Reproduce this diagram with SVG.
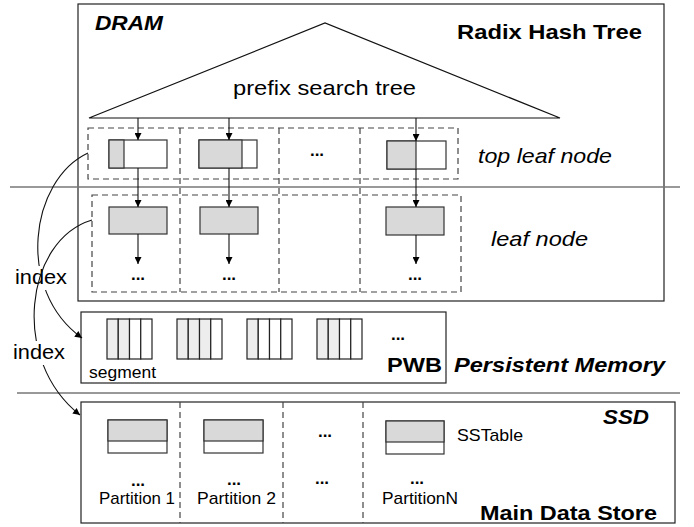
<svg xmlns="http://www.w3.org/2000/svg" width="694" height="527" viewBox="0 0 694 527">
<style>
  .box{fill:#fff;stroke:#222;stroke-width:1.2}
  .sep{stroke:#777;stroke-width:1.5;fill:none}
  .dash{fill:none;stroke:#444;stroke-width:1.2;stroke-dasharray:6,4}
  .cell{fill:#fff;stroke:#333;stroke-width:1.2}
  .gray{fill:#d9d9d9;stroke:#333;stroke-width:1.2}
  .seg{fill:#ededed;stroke:#222;stroke-width:1.2}
  .segw{fill:#fff;stroke:#222;stroke-width:1.2}
  .ln{stroke:#111;stroke-width:1.1;fill:none}
  .hd{font-family:"Liberation Sans",Arial,sans-serif;font-weight:bold;font-size:21px;fill:#000}
  .hdi{font-family:"Liberation Sans",Arial,sans-serif;font-weight:bold;font-style:italic;font-size:21px;fill:#000}
  .it{font-family:"Liberation Sans",Arial,sans-serif;font-style:italic;font-size:21px;fill:#000}
  .rg{font-family:"Liberation Sans",Arial,sans-serif;font-size:21px;fill:#000}
  .sm{font-family:"Liberation Sans",Arial,sans-serif;font-size:17px;fill:#000}
  .dots{font-family:"Liberation Sans",Arial,sans-serif;font-weight:bold;font-size:17px;fill:#000;text-anchor:middle}
</style>
<defs>
  <marker id="ah" viewBox="0 0 10 10" refX="10" refY="5" markerWidth="10" markerHeight="7" markerUnits="userSpaceOnUse" orient="auto">
    <path d="M0,0 L10,5 L0,10 z" fill="#000"/>
  </marker>
</defs>

<g id="dram">
  <rect class="box" x="78" y="4" width="586" height="297"/>
  <text class="hdi" x="95" y="30" textLength="68" lengthAdjust="spacingAndGlyphs">DRAM</text>
  <text class="hd" x="457" y="39" textLength="185" lengthAdjust="spacingAndGlyphs">Radix Hash Tree</text>
</g>

<g id="prefix-tree">
  <polygon points="89,118 325,23 560,118" fill="none" stroke="#111" stroke-width="1.2"/>
  <text class="rg" x="233" y="95" textLength="183" lengthAdjust="spacingAndGlyphs">prefix search tree</text>
</g>

<g id="top-leaf-node">
  <rect class="dash" x="88" y="128" width="370" height="51"/>
  <rect class="cell" x="109" y="140" width="58" height="28"/>
  <rect class="gray" x="109" y="140" width="15" height="28"/>
  <rect class="cell" x="199" y="140" width="58" height="28"/>
  <rect class="gray" x="199" y="140" width="43" height="28"/>
  <text class="dots" x="317" y="156">...</text>
  <rect class="cell" x="387" y="141" width="59" height="28"/>
  <rect class="gray" x="387" y="141" width="29" height="28"/>
  <text class="it" x="478" y="163" textLength="134" lengthAdjust="spacingAndGlyphs">top leaf node</text>
</g>

<g id="leaf-node">
  <rect class="dash" x="92" y="195" width="369" height="97"/>
  <rect class="gray" x="109" y="207" width="58" height="27"/>
  <rect class="gray" x="200" y="207" width="58" height="27"/>
  <rect class="gray" x="386" y="207" width="58" height="28"/>
  <text class="dots" x="138" y="280">...</text>
  <text class="dots" x="229" y="280">...</text>
  <text class="dots" x="415" y="280">...</text>
  <text class="it" x="491" y="246" textLength="97" lengthAdjust="spacingAndGlyphs">leaf node</text>
</g>

<g id="column-dividers">
  <line class="dash" x1="180" y1="128" x2="180" y2="292"/>
  <line class="dash" x1="279" y1="128" x2="279" y2="292"/>
  <line class="dash" x1="360" y1="128" x2="360" y2="292"/>
</g>

<g id="separators">
  <line class="sep" x1="10" y1="187" x2="680" y2="187"/>
  <line class="sep" x1="17" y1="393" x2="680" y2="393"/>
</g>

<g id="pwb">
  <rect class="box" x="81" y="312" width="365" height="71"/>
  <rect class="seg" x="107" y="319" width="11.25" height="40"/>
  <rect class="seg" x="118.25" y="319" width="11.25" height="40"/>
  <rect class="segw" x="129.5" y="319" width="11.25" height="40"/>
  <rect class="segw" x="140.75" y="319" width="11.25" height="40"/>
  <rect class="seg" x="177" y="319" width="11.25" height="40"/>
  <rect class="seg" x="188.25" y="319" width="11.25" height="40"/>
  <rect class="seg" x="199.5" y="319" width="11.25" height="40"/>
  <rect class="segw" x="210.75" y="319" width="11.25" height="40"/>
  <rect class="seg" x="247" y="319" width="11.25" height="40"/>
  <rect class="segw" x="258.25" y="319" width="11.25" height="40"/>
  <rect class="segw" x="269.5" y="319" width="11.25" height="40"/>
  <rect class="segw" x="280.75" y="319" width="11.25" height="40"/>
  <rect class="seg" x="317" y="319" width="11.25" height="40"/>
  <rect class="seg" x="328.25" y="319" width="11.25" height="40"/>
  <rect class="segw" x="339.5" y="319" width="11.25" height="40"/>
  <rect class="segw" x="350.75" y="319" width="11.25" height="40"/>
  <text class="dots" x="398" y="340">...</text>
  <text class="sm" x="89" y="378" font-size="16" textLength="67" lengthAdjust="spacingAndGlyphs">segment</text>
  <text class="hd" x="387" y="372" textLength="55" lengthAdjust="spacingAndGlyphs">PWB</text>
  <text class="hdi" x="454" y="372" textLength="211" lengthAdjust="spacingAndGlyphs">Persistent Memory</text>
</g>

<g id="ssd">
  <rect class="box" x="81" y="402" width="594" height="121"/>
  <line class="dash" x1="180" y1="402" x2="180" y2="523"/>
  <line class="dash" x1="283" y1="402" x2="283" y2="523"/>
  <line class="dash" x1="363" y1="402" x2="363" y2="523"/>
  <rect class="cell" x="108" y="420" width="59" height="33"/>
  <rect class="gray" x="108" y="420" width="59" height="21"/>
  <rect class="cell" x="204" y="420" width="59" height="33"/>
  <rect class="gray" x="204" y="420" width="59" height="21"/>
  <rect class="cell" x="386" y="421" width="58" height="33"/>
  <rect class="gray" x="386" y="421" width="58" height="21"/>
  <text class="dots" x="325" y="437">...</text>
  <text class="dots" x="138" y="486">...</text>
  <text class="dots" x="234" y="485">...</text>
  <text class="dots" x="322" y="484">...</text>
  <text class="dots" x="417" y="484">...</text>
  <text class="sm" x="457" y="441" font-size="16" textLength="66" lengthAdjust="spacingAndGlyphs">SSTable</text>
  <text class="sm" x="99" y="504" textLength="76" lengthAdjust="spacingAndGlyphs">Partition 1</text>
  <text class="sm" x="197" y="504" textLength="79" lengthAdjust="spacingAndGlyphs">Partition 2</text>
  <text class="sm" x="382" y="504" textLength="76" lengthAdjust="spacingAndGlyphs">PartitionN</text>
  <text class="hdi" x="603" y="424" textLength="46" lengthAdjust="spacingAndGlyphs">SSD</text>
  <text class="hd" x="480" y="520" textLength="177" lengthAdjust="spacingAndGlyphs">Main Data Store</text>
</g>

<g id="connectors">
  <line class="ln" x1="138" y1="118" x2="138" y2="140" marker-end="url(#ah)"/>
  <line class="ln" x1="229" y1="118" x2="229" y2="140" marker-end="url(#ah)"/>
  <line class="ln" x1="416" y1="118" x2="416" y2="141" marker-end="url(#ah)"/>
  <line class="ln" x1="138" y1="168" x2="138" y2="207" marker-end="url(#ah)"/>
  <line class="ln" x1="229" y1="168" x2="229" y2="207" marker-end="url(#ah)"/>
  <line class="ln" x1="416" y1="169" x2="416" y2="207" marker-end="url(#ah)"/>
  <line class="ln" x1="138" y1="234" x2="138" y2="264" marker-end="url(#ah)"/>
  <line class="ln" x1="229" y1="234" x2="229" y2="264" marker-end="url(#ah)"/>
  <line class="ln" x1="416" y1="235" x2="416" y2="264" marker-end="url(#ah)"/>
  <path class="ln" d="M88,153 C30,180 15,290 82,338" marker-end="url(#ah)"/>
  <rect x="14" y="266" width="55" height="24" fill="#fff"/>
  <text class="rg" x="15" y="284" font-size="19" textLength="52" lengthAdjust="spacingAndGlyphs">index</text>
  <path class="ln" d="M92,220 C25,240 10,360 80,415" marker-end="url(#ah)"/>
  <rect x="12" y="341" width="55" height="24" fill="#fff"/>
  <text class="rg" x="13" y="359" font-size="19" textLength="52" lengthAdjust="spacingAndGlyphs">index</text>
</g>
</svg>
